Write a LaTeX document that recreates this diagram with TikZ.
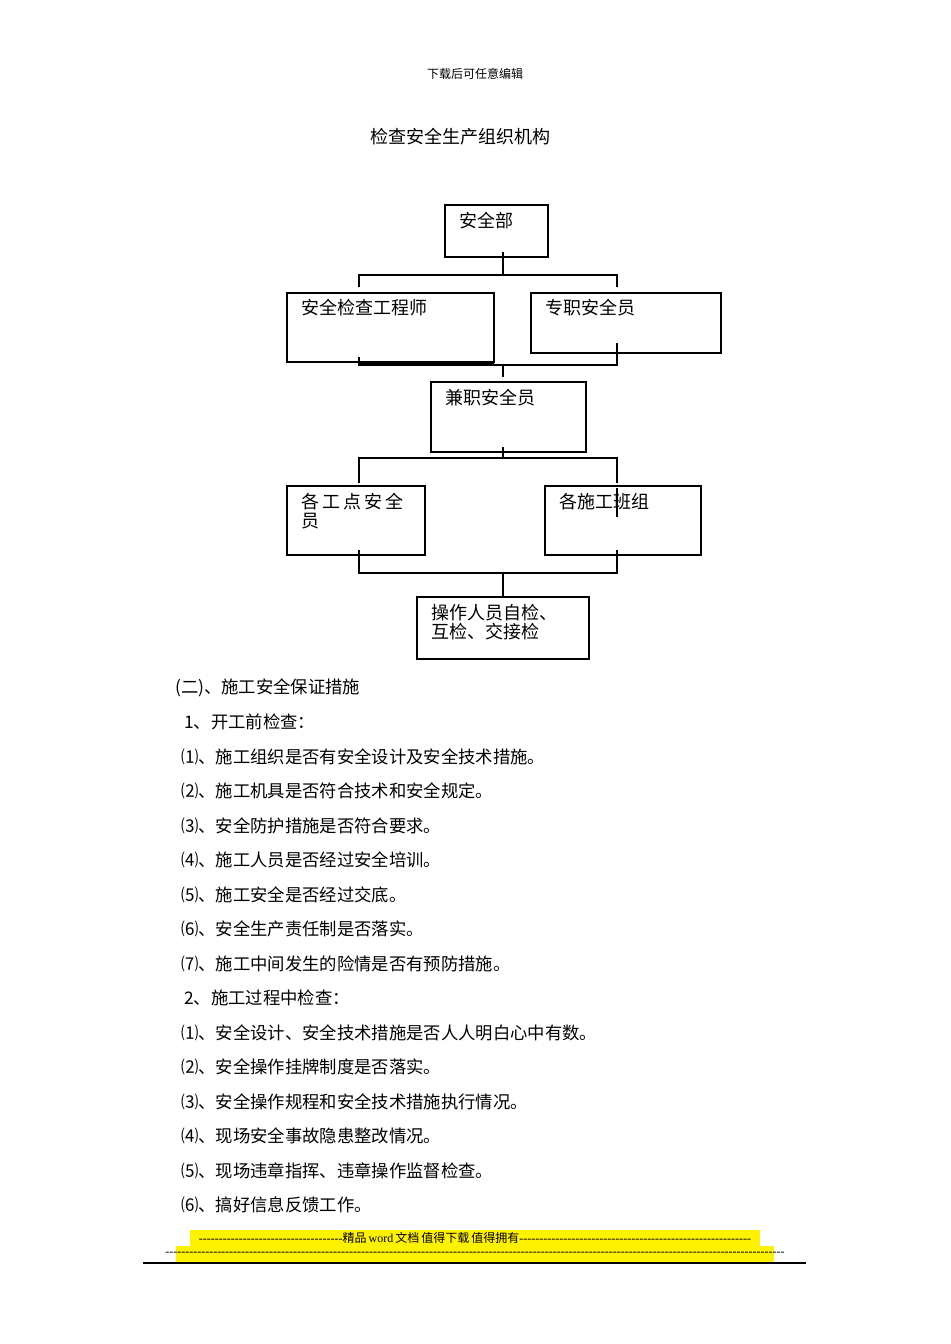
\documentclass[tikz,border=0pt]{standalone}
\usepackage{fontspec}
\setmainfont{Noto Sans CJK SC}
\newfontfamily\lat{Liberation Serif}
\begin{document}
\begin{tikzpicture}[x=0.75pt,y=-0.75pt,
 bx/.style={draw,line width=0.8pt},
 ln/.style={line width=0.8pt},
 lab/.style={anchor=north west,inner sep=0pt,font=\fontsize{13.5pt}{14pt}\selectfont},
 body/.style={anchor=west,inner sep=0pt,font=\fontsize{13pt}{15pt}\selectfont}]
\useasboundingbox (0,0) rectangle (950,1344);
\node[inner sep=0pt,font=\fontsize{9pt}{10pt}\selectfont] (hdr) at (475,74) {下载后可任意编辑};
\node[inner sep=0pt,font=\fontsize{13.5pt}{15pt}\selectfont] (ttl) at (460,137) {检查安全生产组织机构};
% boxes
\draw[bx] (445,205) rectangle (548,257);
\node[lab] (t1) at (459,212) {安全部};
\draw[bx] (287,293) rectangle (494,362);
\node[lab] (t2) at (301,299) {安全检查工程师};
\draw[bx] (531,293) rectangle (721,353);
\node[lab] (t3) at (545,299) {专职安全员};
\draw[bx] (431,382) rectangle (586,452);
\node[lab] (t4) at (445,389) {兼职安全员};
\draw[bx] (287,486) rectangle (425,555);
\node[lab,align=left] (t5) at (301,493) {各\,工\,点\,安\,全\\员};
\draw[bx] (545,486) rectangle (701,555);
\node[lab] (t6) at (559,493) {各施工班组};
\draw[bx] (417,597) rectangle (589,659);
\node[lab,align=left] (t7) at (431,604) {操作人员自检、\\互检、交接检};
% connectors
\draw[ln] (503,252) -- (503,275);
\draw[ln] (359,287) -- (359,275) -- (617,275) -- (617,287);
\draw[ln] (359,357) -- (359,365) -- (617,365) -- (617,343);
\draw[ln] (359,363) -- (494,363);
\draw[ln] (503,365) -- (503,377);
\draw[ln] (503,447) -- (503,458);
\draw[ln] (359,483) -- (359,458) -- (617,458) -- (617,483);
\draw[ln] (617,488) -- (617,517);
\draw[ln] (359,550) -- (359,573) -- (617,573) -- (617,550);
\draw[ln] (503,573) -- (503,597);
% body text
\node[body] at (175,688) {(二)、施工安全保证措施};
\node[body] at (184,722) {1、开工前检查：};
\foreach \t [count=\i] in {⑴、施工组织是否有安全设计及安全技术措施。,⑵、施工机具是否符合技术和安全规定。,⑶、安全防护措施是否符合要求。,⑷、施工人员是否经过安全培训。,⑸、施工安全是否经过交底。,⑹、安全生产责任制是否落实。,⑺、施工中间发生的险情是否有预防措施。}
  \node[body] at (181,{722+34.5*\i}) {\t};
\node[body] at (184,998) {2、施工过程中检查：};
\foreach \t [count=\i] in {⑴、安全设计、安全技术措施是否人人明白心中有数。,⑵、安全操作挂牌制度是否落实。,⑶、安全操作规程和安全技术措施执行情况。,⑷、现场安全事故隐患整改情况。,⑸、现场违章指挥、违章操作监督检查。,⑹、搞好信息反馈工作。}
  \node[body] at (181,{998+34.5*\i}) {\t};
% footer
\fill[yellow] (190,1230) rectangle (760,1246);
\fill[yellow] (176,1246) rectangle (774,1262);
\node[inner sep=0pt,font=\fontsize{9pt}{10pt}\selectfont] (f1) at (475,1238) {{\lat ------------------------------------}精品\,{\lat word}\,文档\,值得下载\,值得拥有{\lat ----------------------------------------------------------}};
\node[inner sep=0pt,font=\fontsize{9pt}{10pt}\selectfont\lat] (f2) at (475,1254) {-----------------------------------------------------------------------------------------------------------------------------------------------------------};
\draw[line width=0.8pt] (143,1263) -- (806,1263);
\end{tikzpicture}
\end{document}
